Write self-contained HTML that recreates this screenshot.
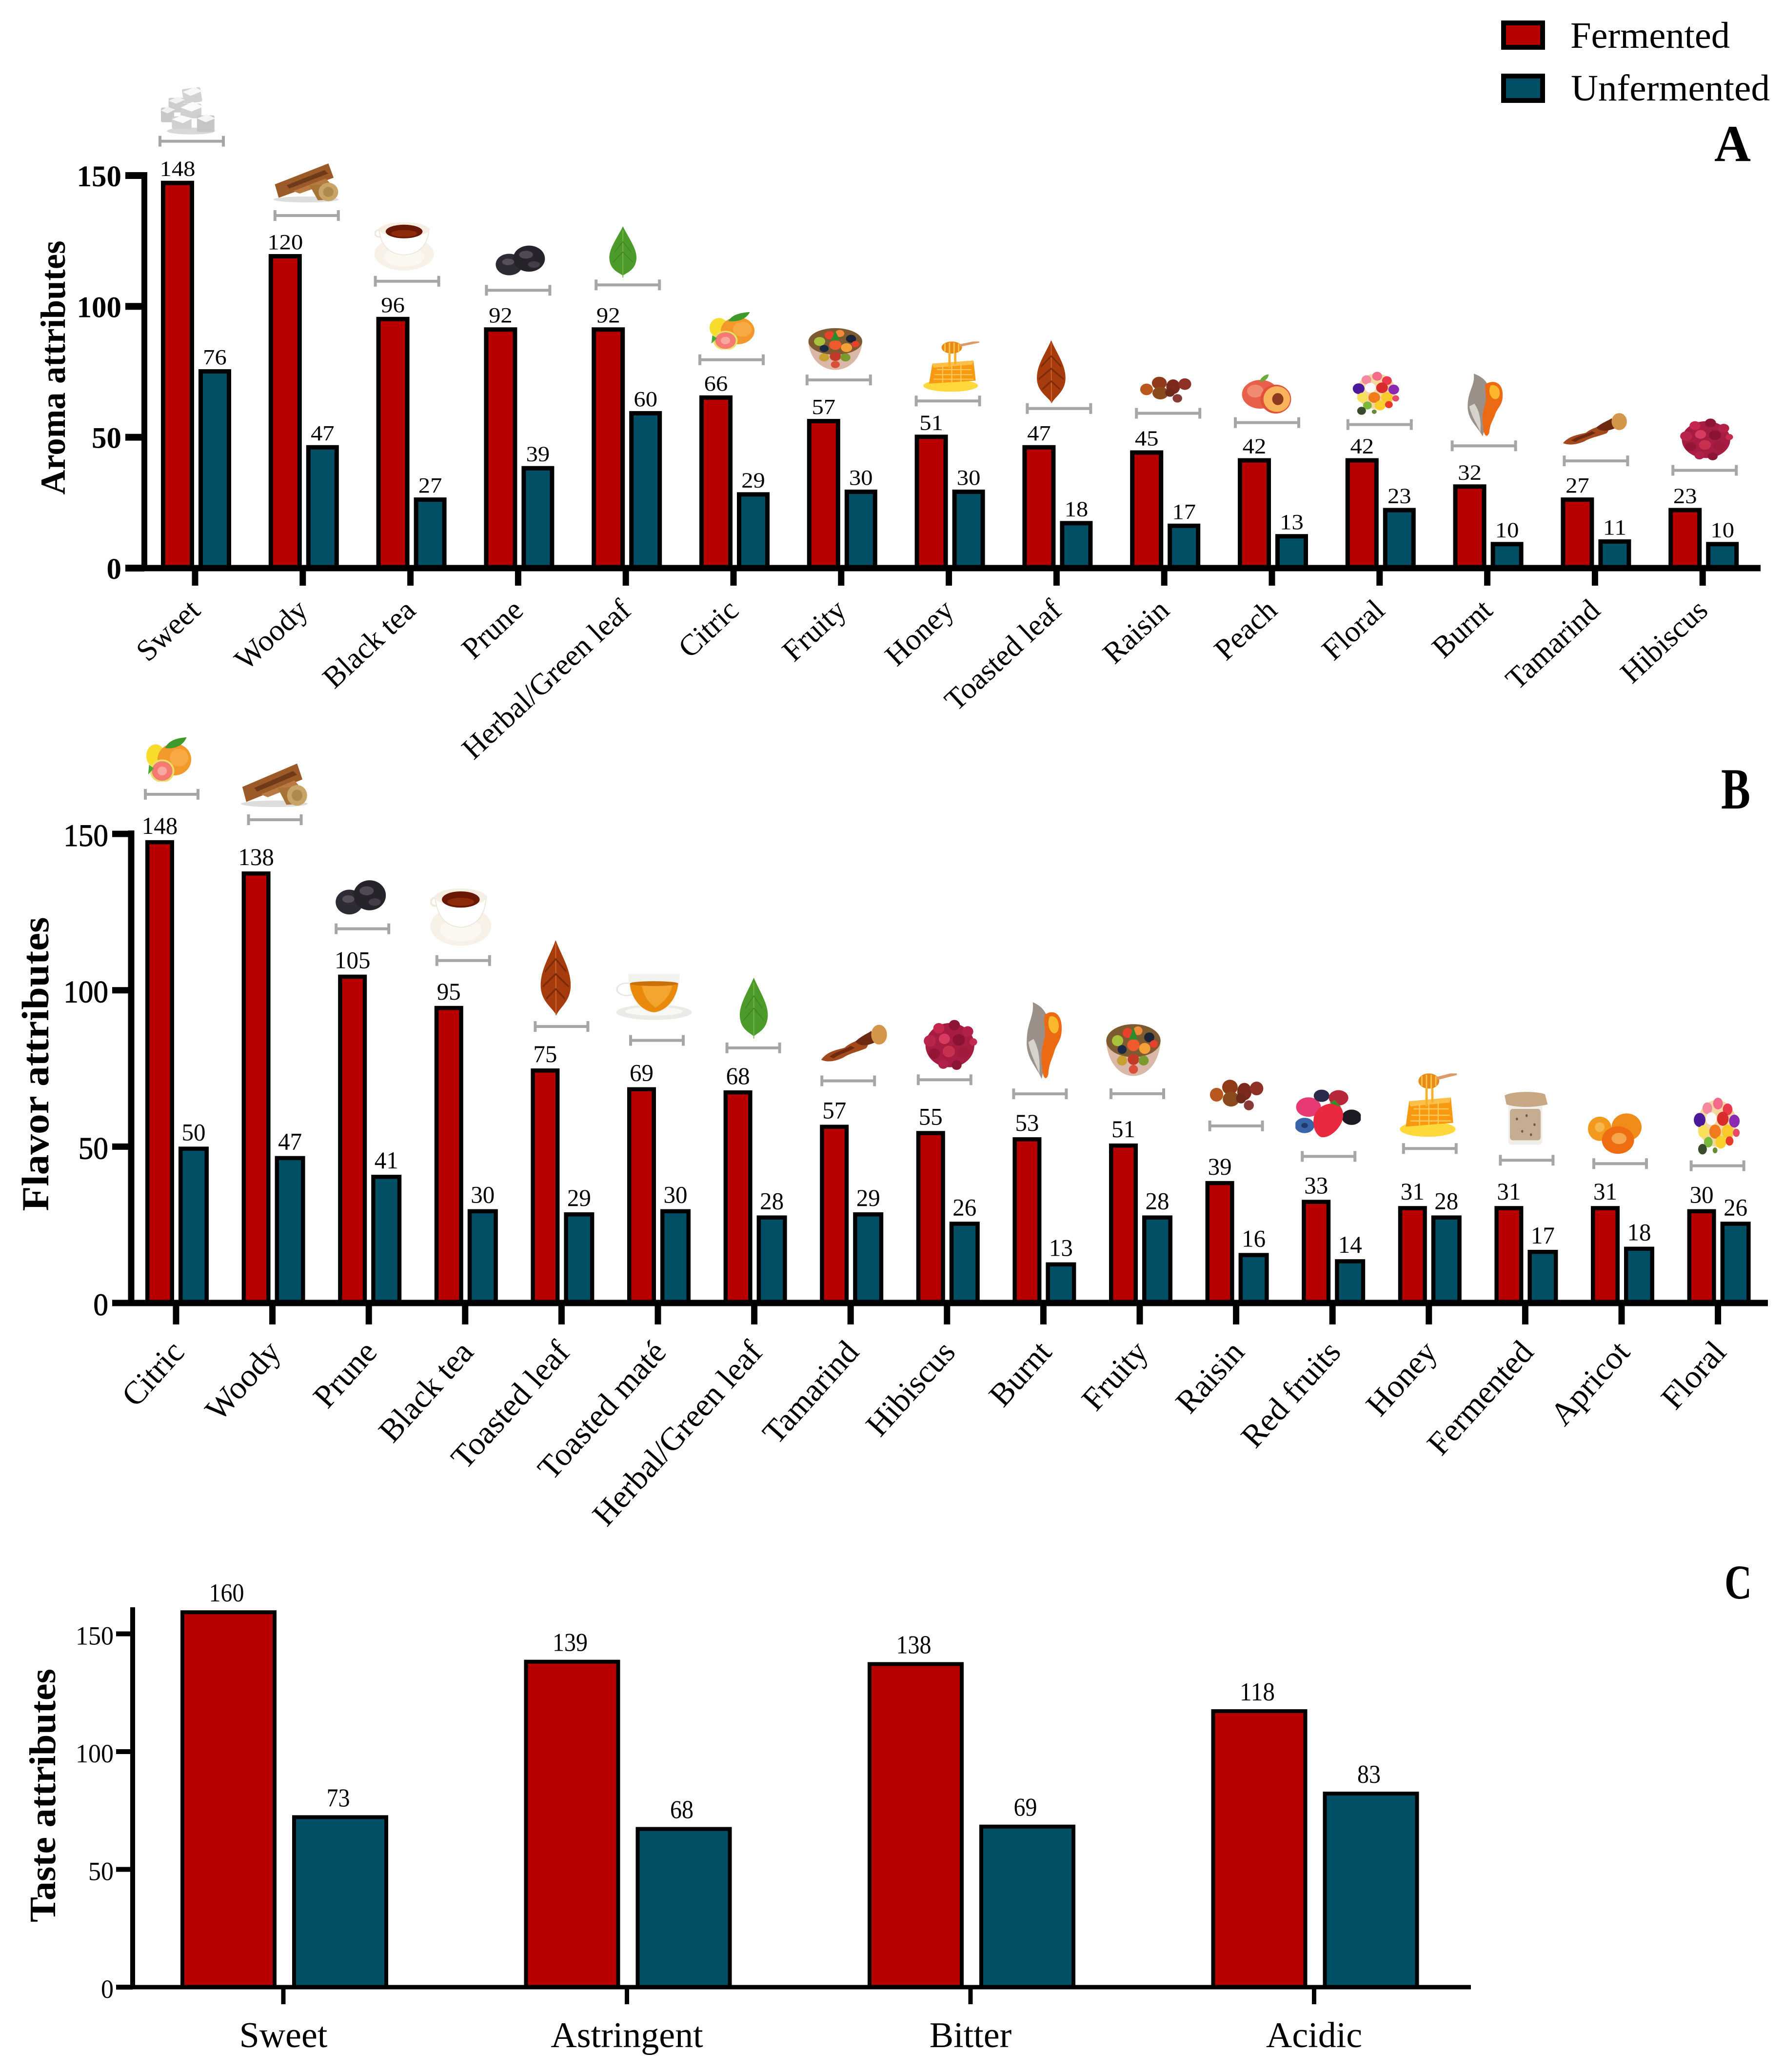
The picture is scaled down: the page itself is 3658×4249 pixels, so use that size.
<!DOCTYPE html>
<html lang="en">
<head>
<meta charset="utf-8">
<title>Aroma, flavor and taste attributes</title>
<style>
html,body{margin:0;padding:0;background:#fff;}
#figure{display:block;width:3658px;height:4249px;font-family:"Liberation Serif",serif;}
text{font-family:"Liberation Serif",serif;fill:#000;}
</style>
</head>
<body>
<svg id="figure" xmlns="http://www.w3.org/2000/svg" width="3658" height="4249" viewBox="0 0 3658 4249">
<defs>
<symbol id="i-sugar" viewBox="0 0 100 100" preserveAspectRatio="none">
<ellipse cx="55" cy="92" rx="44" ry="7" fill="#d8d8d8"/>
<rect x="40" y="4" width="34" height="30" rx="3" fill="#d2d2d2" transform="rotate(-8 57 19)"/>
<polygon points="40,12 62,2 76,10 54,20" fill="#f8f8f8"/>
<rect x="14" y="24" width="28" height="30" rx="3" fill="#cdcdcd"/>
<polygon points="14,30 30,22 44,28 28,36" fill="#f2f2f2"/>
<rect x="36" y="36" width="38" height="30" rx="3" fill="#d0d0d0"/>
<polygon points="36,44 58,32 78,42 56,52" fill="#fbfbfb"/>
<rect x="0" y="44" width="24" height="30" rx="3" fill="#c8c8c8"/>
<polygon points="0,50 12,42 26,48 12,56" fill="#f0f0f0"/>
<rect x="20" y="62" width="36" height="26" rx="3" fill="#d0d0d0"/>
<polygon points="20,68 38,60 58,66 40,76" fill="#fafafa"/>
<rect x="66" y="60" width="32" height="34" rx="3" fill="#c6c6c6"/>
<polygon points="66,66 84,58 100,66 82,74" fill="#f5f5f5"/>
</symbol>
<symbol id="i-wood" viewBox="0 0 100 100" preserveAspectRatio="none">
<ellipse cx="50" cy="92" rx="50" ry="7" fill="#ddd"/>
<polygon points="2,56 84,6 92,40 8,88" fill="#9c5a28"/>
<polygon points="20,58 78,22 84,30 24,66" fill="#6f3a18"/>
<polygon points="30,72 80,42 86,52 40,78" fill="#b87a40"/>
<polygon points="55,58 85,56 92,92 68,94" fill="#a87436"/>
<ellipse cx="84" cy="74" rx="15" ry="22" fill="#c8a468"/>
<ellipse cx="84" cy="74" rx="8" ry="12" fill="#b08a4c"/>
</symbol>
<symbol id="i-tea" viewBox="0 0 100 100" preserveAspectRatio="none">
<ellipse cx="50" cy="66" rx="50" ry="34" fill="#f7f1e8"/>
<ellipse cx="50" cy="72" rx="34" ry="20" fill="#fbf8f2"/>
<circle cx="8" cy="24" r="7" fill="none" stroke="#eee8dc" stroke-width="3"/>
<path d="M8,14 C10,48 24,66 50,68 C76,66 90,48 92,14 Z" fill="#fff" stroke="#ece6d8" stroke-width="1.5"/>
<ellipse cx="50" cy="16" rx="42" ry="15" fill="#f6eee2"/>
<ellipse cx="50" cy="20" rx="31" ry="14" fill="#6a1806"/>
<ellipse cx="50" cy="24" rx="22" ry="7" fill="#8e2a0c"/>
</symbol>
<symbol id="i-prune" viewBox="0 0 100 100" preserveAspectRatio="none">
<ellipse cx="28" cy="60" rx="27" ry="33" fill="#2f2b34"/>
<ellipse cx="68" cy="42" rx="32" ry="40" fill="#27232b"/>
<ellipse cx="26" cy="52" rx="12" ry="10" fill="#55505c"/>
<ellipse cx="62" cy="30" rx="14" ry="12" fill="#4e4955"/>
<ellipse cx="78" cy="60" rx="12" ry="10" fill="#423d49"/>
</symbol>
<symbol id="i-leaf" viewBox="0 0 100 100" preserveAspectRatio="none">
<path d="M50,0 C72,25 100,45 96,65 C92,85 65,90 50,96 C35,90 8,85 4,65 C0,45 28,25 50,0 Z" fill="#4c9a2a"/>
<path d="M50,8 L50,100" stroke="#79b544" stroke-width="3"/>
<path d="M50,30 L78,50 M50,30 L22,50 M50,50 L84,70 M50,50 L16,70" stroke="#3e8422" stroke-width="2"/>
</symbol>
<symbol id="i-toasted" viewBox="0 0 100 100" preserveAspectRatio="none">
<path d="M50,0 C70,22 100,40 98,62 C96,82 62,90 52,100 C40,90 4,82 2,62 C0,40 30,22 50,0 Z" fill="#a63c0e"/>
<path d="M50,4 L51,100" stroke="#d0662a" stroke-width="3"/>
<path d="M50,25 L84,42 M50,25 L16,42 M50,45 L92,62 M50,45 L8,62 M50,65 L80,78 M50,65 L20,78" stroke="#7c2a08" stroke-width="3"/>
</symbol>
<symbol id="i-citric" viewBox="0 0 100 100" preserveAspectRatio="none">
<ellipse cx="22" cy="42" rx="20" ry="26" fill="#f7dc2c"/>
<circle cx="62" cy="50" r="36" fill="#f3982a"/>
<circle cx="72" cy="46" r="20" fill="#f7aa44"/>
<circle cx="36" cy="76" r="26" fill="#e8e066"/>
<circle cx="36" cy="76" r="22" fill="#f47a72"/>
<circle cx="36" cy="76" r="10" fill="#f8a8a0"/>
<path d="M42,24 C52,4 72,2 88,0 C82,18 62,28 42,24 Z" fill="#3f9a2c"/>
<path d="M8,62 L18,70 L6,84 Z" fill="#4aa834"/>
</symbol>
<symbol id="i-fruity" viewBox="0 0 100 100" preserveAspectRatio="none">
<path d="M2,32 C4,72 26,96 50,96 C74,96 96,72 98,32 Z" fill="#d9b8a8"/>
<ellipse cx="50" cy="32" rx="48" ry="30" fill="#7d5a30"/>
<circle cx="22" cy="32" r="10" fill="#a8c23c"/>
<circle cx="40" cy="18" r="9" fill="#e8432a"/>
<circle cx="58" cy="14" r="8" fill="#f08a3c"/>
<circle cx="78" cy="26" r="9" fill="#1c2538"/>
<circle cx="30" cy="48" r="8" fill="#1a2a44"/>
<circle cx="50" cy="40" r="11" fill="#ee5a2e"/>
<circle cx="70" cy="46" r="10" fill="#f4a03a"/>
<circle cx="86" cy="38" r="7" fill="#e8402a"/>
<path d="M42,30 L50,8 L58,30 Z" fill="#2f8a2c"/>
<circle cx="30" cy="68" r="9" fill="#c8a030"/>
<circle cx="50" cy="66" r="10" fill="#c43a28"/>
<circle cx="68" cy="68" r="9" fill="#7a9a30"/>
<circle cx="50" cy="84" r="8" fill="#d8503a"/>
</symbol>
<symbol id="i-honey" viewBox="0 0 100 100" preserveAspectRatio="none">
<ellipse cx="48" cy="88" rx="48" ry="12" fill="#ffd83c"/>
<polygon points="16,44 88,38 92,78 10,84" fill="#f79a12"/>
<polygon points="16,44 88,38 86,46 18,52" fill="#fcc04a"/>
<g fill="none" stroke="#ffc95a" stroke-width="2"><path d="M24,56 H84 M20,66 H86 M18,75 H88"/><path d="M34,48 V82 M50,46 V82 M66,44 V80"/></g>
<path d="M46,16 V52 M56,20 V46" stroke="#f7b02a" stroke-width="4"/>
<ellipse cx="50" cy="12" rx="18" ry="12" fill="#e88a18"/>
<path d="M38,4 V20 M46,2 V24 M54,2 V24 M62,4 V20" stroke="#f9c448" stroke-width="2.5"/>
<path d="M64,8 L98,0" stroke="#dc9a68" stroke-width="5"/>
</symbol>
<symbol id="i-raisin" viewBox="0 0 100 100" preserveAspectRatio="none">
<ellipse cx="14" cy="50" rx="12" ry="22" fill="#b8581e"/>
<ellipse cx="38" cy="26" rx="14" ry="24" fill="#8f3a18"/>
<ellipse cx="40" cy="64" rx="15" ry="24" fill="#8a4a1c"/>
<ellipse cx="64" cy="40" rx="13" ry="28" fill="#7c2a1c"/>
<ellipse cx="86" cy="30" rx="12" ry="22" fill="#8e3226"/>
<ellipse cx="72" cy="84" rx="9" ry="16" fill="#8a3a36"/>
<ellipse cx="58" cy="62" rx="9" ry="16" fill="#6e2a18"/>
</symbol>
<symbol id="i-peach" viewBox="0 0 100 100" preserveAspectRatio="none">
<circle cx="38" cy="50" r="36" fill="#e8604a"/>
<circle cx="28" cy="42" r="16" fill="#f08a70"/>
<ellipse cx="68" cy="62" rx="30" ry="36" fill="#e2503a"/>
<ellipse cx="70" cy="62" rx="26" ry="32" fill="#f8b45a"/>
<ellipse cx="72" cy="62" rx="11" ry="15" fill="#8e3a1e"/>
<path d="M36,18 C40,6 48,0 54,0 C54,10 46,20 36,18 Z" fill="#6fa83c"/>
</symbol>
<symbol id="i-floral" viewBox="0 0 100 100" preserveAspectRatio="none">
<circle cx="50" cy="46" r="40" fill="#f3d6a0"/>
<circle cx="30" cy="20" r="10" fill="#f48aa0"/><circle cx="52" cy="12" r="10" fill="#f46a8a"/><circle cx="72" cy="22" r="10" fill="#e83a4a"/>
<circle cx="14" cy="40" r="12" fill="#4a1a9a"/><circle cx="38" cy="38" r="11" fill="#fafafa"/><circle cx="62" cy="38" r="12" fill="#d82c2c"/><circle cx="86" cy="42" r="11" fill="#8a2ab0"/>
<circle cx="22" cy="60" r="11" fill="#f8e05a"/><circle cx="46" cy="60" r="12" fill="#f07a1c"/><circle cx="72" cy="60" r="12" fill="#f8c82c"/><circle cx="90" cy="62" r="7" fill="#e84a6a"/>
<circle cx="32" cy="78" r="9" fill="#7ab83c"/><circle cx="58" cy="78" r="11" fill="#fad02c"/><circle cx="76" cy="76" r="8" fill="#e83a2a"/>
<circle cx="20" cy="90" r="9" fill="#3a4a2c"/><circle cx="46" cy="92" r="5" fill="#6a8a3a"/>
</symbol>
<symbol id="i-burnt" viewBox="0 0 100 100" preserveAspectRatio="none">
<path d="M20,0 C50,6 64,16 62,34 C58,60 52,80 44,96 C30,80 0,70 4,46 C6,24 24,18 20,0 Z" fill="#9a9088"/>
<path d="M8,50 C14,66 30,78 38,90 C40,70 36,58 22,46 Z" fill="#d6d2cc"/>
<path d="M52,16 C74,8 100,14 98,34 C98,48 84,52 78,62 C72,72 64,76 62,90 C56,100 46,94 46,82 C40,68 46,54 52,44 C56,34 48,26 52,16 Z" fill="#ec6a14"/>
<path d="M66,18 C80,16 92,22 90,32 C86,42 72,40 66,34 C60,28 62,22 66,18 Z" fill="#fcb82c"/>
</symbol>
<symbol id="i-tamarind" viewBox="0 0 100 100" preserveAspectRatio="none">
<path d="M0,92 C10,68 26,66 36,60 C46,44 58,42 66,32 C72,34 74,52 68,62 C54,72 42,76 34,86 C22,96 10,100 0,92 Z" fill="#a2491e"/>
<path d="M16,86 C26,72 38,70 48,58" stroke="#6e2a10" stroke-width="8" fill="none"/>
<path d="M52,44 C62,28 72,22 76,16 L82,46 C72,54 60,60 52,44 Z" fill="#6e2a10"/>
<ellipse cx="88" cy="26" rx="12" ry="26" fill="#d4964a"/>
</symbol>
<symbol id="i-hibiscus" viewBox="0 0 100 100" preserveAspectRatio="none">
<ellipse cx="50" cy="50" rx="44" ry="42" fill="#a61c42"/>
<circle cx="30" cy="18" r="10" fill="#c4264e"/><circle cx="58" cy="12" r="10" fill="#8e1434"/><circle cx="82" cy="24" r="10" fill="#b42048"/>
<circle cx="14" cy="42" r="11" fill="#b8244a"/><circle cx="40" cy="38" r="10" fill="#d83a60"/><circle cx="66" cy="40" r="11" fill="#8a1232"/><circle cx="92" cy="44" r="7" fill="#c22a50"/>
<circle cx="22" cy="66" r="10" fill="#941634"/><circle cx="48" cy="62" r="11" fill="#c8304e"/><circle cx="74" cy="64" r="11" fill="#a01a3c"/>
<circle cx="38" cy="86" r="9" fill="#b0204a"/><circle cx="62" cy="88" r="9" fill="#8c1434"/>
</symbol>
<symbol id="i-mate" viewBox="0 0 100 100" preserveAspectRatio="none">
<ellipse cx="50" cy="84" rx="50" ry="16" fill="#eceae6"/>
<ellipse cx="50" cy="82" rx="38" ry="9" fill="#f9f8f5"/>
<circle cx="14" cy="36" r="13" fill="none" stroke="#e6e6e2" stroke-width="2.5"/>
<path d="M16,4 C16,50 30,84 50,86 C70,84 84,50 84,4 Z" fill="#f2f2ee"/>
<path d="M18,24 C20,56 34,82 50,84 C66,82 80,56 82,24 Z" fill="#ea8a0c"/>
<path d="M34,28 C36,50 44,66 52,74 C64,62 72,46 74,28 Z" fill="#f3a52e"/>
<ellipse cx="50" cy="24" rx="32" ry="5" fill="#c8700a"/>
</symbol>
<symbol id="i-berries" viewBox="0 0 100 100" preserveAspectRatio="none">
<circle cx="20" cy="36" r="19" fill="#e83a72"/>
<circle cx="40" cy="14" r="12" fill="#2a2a4a"/>
<circle cx="66" cy="18" r="15" fill="#b8283a"/>
<circle cx="14" cy="72" r="15" fill="#3a64a8"/>
<circle cx="14" cy="72" r="5" fill="#1e3a6a"/>
<circle cx="86" cy="56" r="15" fill="#1e1a24"/>
<path d="M28,58 C30,36 50,26 62,30 C76,36 76,60 66,76 C58,90 46,98 38,94 C30,88 26,72 28,58 Z" fill="#e8293e"/>
<path d="M52,28 L70,36 L60,22 Z" fill="#3a8a2c"/>
</symbol>
<symbol id="i-jar" viewBox="0 0 100 100" preserveAspectRatio="none">
<rect x="10" y="20" width="78" height="76" rx="8" fill="#efeeea"/>
<rect x="14" y="32" width="70" height="56" rx="6" fill="#c4ad90"/>
<circle cx="30" cy="50" r="2.5" fill="#6e5a44"/><circle cx="52" cy="44" r="2.5" fill="#6e5a44"/><circle cx="70" cy="60" r="2.5" fill="#6e5a44"/><circle cx="42" cy="72" r="2.5" fill="#6e5a44"/><circle cx="62" cy="78" r="2.5" fill="#6e5a44"/>
<path d="M2,8 C20,0 76,0 94,6 L100,24 C70,30 30,30 6,24 Z" fill="#c8a884"/>
</symbol>
<symbol id="i-apricot" viewBox="0 0 100 100" preserveAspectRatio="none">
<ellipse cx="22" cy="38" rx="22" ry="30" fill="#f39a1e"/>
<ellipse cx="72" cy="34" rx="28" ry="34" fill="#f08c18"/>
<ellipse cx="56" cy="66" rx="30" ry="34" fill="#ee6c12"/>
<ellipse cx="58" cy="62" rx="14" ry="14" fill="#f8a44a"/>
<ellipse cx="22" cy="34" rx="9" ry="12" fill="#f7b74e"/>
</symbol>
</defs>

<g>
<g>
<rect x="3083" y="47" width="80" height="50" fill="#b90000" stroke="#000" stroke-width="10"/>
<text x="3220" y="98" font-size="76" textLength="327" lengthAdjust="spacingAndGlyphs">Fermented</text>
</g>
<g>
<rect x="3083" y="156" width="80" height="50" fill="#004f64" stroke="#000" stroke-width="10"/>
<text x="3221" y="206" font-size="76" textLength="408" lengthAdjust="spacingAndGlyphs">Unfermented</text>
</g>
</g>
<text x="3515" y="330" font-size="106" font-weight="bold" textLength="75" lengthAdjust="spacingAndGlyphs">A</text>
<text x="3529" y="1658" font-size="120" font-weight="bold" textLength="60" lengthAdjust="spacingAndGlyphs">B</text>
<text x="3536" y="3278" font-size="100" font-weight="bold" textLength="56" lengthAdjust="spacingAndGlyphs">C</text>
<g id="charts"></g>
</svg>

<script>
// ---- Panel A: aroma ----
const aromaCategories = ["Sweet","Woody","Black tea","Prune","Herbal/Green leaf","Citric","Fruity","Honey","Toasted leaf","Raisin","Peach","Floral","Burnt","Tamarind","Hibiscus"];
const aromaFermented = [148,120,96,92,92,66,57,51,47,45,42,42,32,27,23];
const aromaUnfermented = [76,47,27,39,60,29,30,30,18,17,13,23,10,11,10];
const aromaTicks = [0,50,100,150];

// ---- Panel B: flavor ----
const flavorCategories = ["Citric","Woody","Prune","Black tea","Toasted leaf","Toasted maté","Herbal/Green leaf","Tamarind","Hibiscus","Burnt","Fruity","Raisin","Red fruits","Honey","Fermented","Apricot","Floral"];
const flavorFermented = [148,138,105,95,75,69,68,57,55,53,51,39,33,31,31,31,30];
const flavorUnfermented = [50,47,41,30,29,30,28,29,26,13,28,16,14,28,17,18,26];
const flavorTicks = [0,50,100,150];

// ---- Panel C: taste ----
const tasteCategories = ["Sweet","Astringent","Bitter","Acidic"];
const tasteFermented = [160,139,138,118];
const tasteUnfermented = [73,68,69,83];
const tasteTicks = [0,50,100,150];

// Decoration layout: icon symbol, icon w, icon h, icon dx, icon gap, bracket dx, bracket rise
const aromaDecor = {
  "Sweet":["sugar",112,100,-14,13,-7,81],"Woody":["wood",134,86,7,26,8,79],"Black tea":["tea",122,100,-13,22,-7,73],
  "Prune":["prune",102,67,4,26,0,76],"Herbal/Green leaf":["leaf",60,105,-6,15,4,87],"Citric":["citric",96,77,-3,21,-4,73],
  "Fruity":["fruity",115,91,-12,17,-5,80],"Honey":["honey",117,103,6,19,-2,69],"Toasted leaf":["toasted",61,129,-11,11,5,75],
  "Raisin":["raisin",109,54,3,22,8,76],"Peach":["peach",105,82,-11,17,-10,73],"Floral":["floral",100,91,-7,19,0,69],
  "Burnt":["burnt",76,134,-5,14,-7,79],"Tamarind":["tamarind",131,67,0,31,2,75],"Hibiscus":["hibiscus",113,90,7,18,4,77]
};
const flavorDecor = {
  "Citric":["citric",96,91,-15,26,-9,94],"Woody":["wood",137,96,4,25,5,106],"Prune":["prune",104,77,-17,24,-13,94],
  "Black tea":["tea",125,119,-9,30,-4,93],"Toasted leaf":["toasted",64,154,-12,23,0,86],"Toasted maté":["mate",155,98,-8,42,-2,96],
  "Herbal/Green leaf":["leaf",62,125,-1,19,-2,87],"Tamarind":["tamarind",135,78,7,37,-5,90],"Hibiscus":["hibiscus",114,108,6,17,-5,105],
  "Burnt":["burnt",76,164,1,24,-7,89],"Fruity":["fruity",116,113,-13,32,-5,102],"Raisin":["raisin",114,64,1,32,0,113],
  "Red fruits":["berries",134,105,-9,34,-8,89],"Honey":["honey",119,130,0,24,2,118],"Fermented":["jar",90,115,1,27,3,94],
  "Apricot":["apricot",110,83,-14,20,-3,87],"Floral":["floral",99,120,-2,22,-1,89]
};

const SVGNS = "http://www.w3.org/2000/svg";
const root = document.getElementById("charts");
function mk(tag, attrs, parent, txt){
  const el = document.createElementNS(SVGNS, tag);
  for (const k in attrs) el.setAttribute(k, attrs[k]);
  if (txt !== undefined) el.textContent = txt;
  parent.appendChild(el);
  return el;
}
function slug(s){ return s.toLowerCase().replace(/[^a-z0-9]+/g,"-"); }

function drawChart(c){
  const g = mk("g", {}, root);
  
  
  const xPos = i => c.x0 + i * c.dx;
  const yPos = v => c.y0 - v * c.scale;

  // bars
  function bar(i, v, off, w, fill, series){
    const top = yPos(v);
    const b = c.border;
    const r = mk("rect", {x:xPos(i)+off+b/2, y:top+b/2, width:w-b, height:c.y0-top-b/2, fill:fill, stroke:"#000", "stroke-width":b}, g);
    
    
    const txt = String(v);
    const t = mk("text", {x:xPos(i)+off+w/2+c.valueDx, y:top-c.valueGap, "font-size":c.valueFs, "text-anchor":"middle", textLength:txt.length*c.charW, lengthAdjust:"spacingAndGlyphs"}, g, txt);
    
    
  }
  c.categories.forEach((name,i)=>{
    bar(i, c.fermented[i], c.redOff, c.redW, "#b90000", "fermented");
    bar(i, c.unfermented[i], c.blueOff, c.blueW, "#004f64", "unfermented");
  });

  // y axis
  const ya = mk("rect", {x:c.axisX-c.axisW/2, y:c.axisTop, width:c.axisW, height:c.y0-c.axisTop+c.thick/2, fill:"#000"}, g);
  
  
  c.ticks.forEach(v=>{
    const tk = mk("rect", {x:c.tickLeft, y:yPos(v)-c.ytickH/2, width:c.axisX-c.tickLeft, height:c.ytickH, fill:"#000"}, g);
    
    
    const lb = mk("text", {x:c.tickLabelX, y:yPos(v)+c.tickLabelDy, "font-size":c.tickFs, "text-anchor":"end", "font-weight":c.tickWeight}, g, String(v));
    if (c.tickStroke){ lb.setAttribute("stroke","#000"); lb.setAttribute("stroke-width",c.tickStroke); }
    if (c.tickCharW){ lb.setAttribute("textLength", String(v).length*c.tickCharW); lb.setAttribute("lengthAdjust","spacingAndGlyphs"); }
    
    
  });

  // x axis
  const xa = mk("rect", {x:c.tickLeft, y:c.y0-c.thick/2, width:c.right-c.tickLeft, height:c.thick, fill:"#000"}, g);
  
  
  c.categories.forEach((name,i)=>{
    const tk = mk("rect", {x:xPos(i)-c.xtickW/2, y:c.y0, width:c.xtickW, height:c.tickBottom-c.y0, fill:"#000"}, g);
    
    
    const ax = xPos(i) + c.catDx, ay = c.catY;
    const attrs = {x:ax, y:ay, "font-size":c.catFs, "text-anchor":c.catAngle ? "end" : "middle"};
    if (c.catAngle) attrs.transform = "rotate(" + c.catAngle + " " + ax + " " + ay + ")";
    const lb = mk("text", attrs, g, name);
    
    
  });

  // y axis title
  const tt = mk("text", {x:c.titleX, y:c.titleY, "font-size":c.titleFs, "font-weight":"bold", "text-anchor":"middle", textLength:c.titleLen, lengthAdjust:"spacingAndGlyphs", transform:"rotate(-90 "+c.titleX+" "+c.titleY+")"}, g, c.title);
  
  

  // decorations: bracket + icon
  if (c.decor){
    c.categories.forEach((name,i)=>{
      const d = c.decor[name];
      if (!d) return;
      const by = yPos(c.fermented[i]) - d[6];
      const bc = xPos(i) + d[5];
      const hw = c.bracketW/2;
      const br = mk("path", {d:"M"+(bc-hw)+" "+(by-11)+"V"+(by+11)+"M"+(bc-hw)+" "+by+"H"+(bc+hw)+"M"+(bc+hw)+" "+(by-11)+"V"+(by+11), fill:"none", stroke:"#a6a6a6", "stroke-width":6}, g);
      
      
      const ic = mk("use", {href:"#i-"+d[0], x:xPos(i)+d[3]-d[1]/2, y:by-d[4]-d[2], width:d[1], height:d[2]}, g);
      
      
    });
  }
}

drawChart({id:"aroma", categories:aromaCategories, fermented:aromaFermented, unfermented:aromaUnfermented, ticks:aromaTicks, decor:aromaDecor,
  x0:400, dx:220.8, y0:1165, scale:5.367, redOff:-70, redW:68, blueOff:7, blueW:67, border:9,
  axisX:296, axisW:12, axisTop:353, thick:13, ytickH:14, xtickW:13, tickLeft:257, tickBottom:1201, right:3610,
  tickLabelX:249, tickLabelDy:22, tickFs:61, tickWeight:"bold", valueFs:44, charW:24.3, valueGap:10, valueDx:0,
  catFs:62, catAngle:-43, catDx:14, catY:1256, title:"Aroma attributes", titleX:133, titleY:754, titleFs:72, titleLen:521, bracketW:130});

drawChart({id:"flavor", categories:flavorCategories, fermented:flavorFermented, unfermented:flavorUnfermented, ticks:flavorTicks, decor:flavorDecor,
  x0:361, dx:197.6, y0:2672, scale:6.413, redOff:-63, redW:59, blueOff:5, blueW:62, border:8.5,
  axisX:269, axisW:13, axisTop:1703, thick:13, ytickH:13, xtickW:13, tickLeft:230, tickBottom:2716, right:3625,
  tickLabelX:222, tickLabelDy:25, tickFs:65, tickWeight:"normal", tickStroke:1, tickCharW:30.6, valueFs:50, charW:24.5, valueGap:13, valueDx:0,
  catFs:67, catAngle:-48, catDx:20, catY:2775, title:"Flavor attributes", titleX:99, titleY:2182, titleFs:78, titleLen:603, bracketW:108});

drawChart({id:"taste", categories:tasteCategories, fermented:tasteFermented, unfermented:tasteUnfermented, ticks:tasteTicks, decor:null,
  x0:581, dx:704.5, y0:4075, scale:4.83, redOff:-211, redW:197, blueOff:18, blueW:197, border:8,
  axisX:272, axisW:10, axisTop:3296, thick:9, ytickH:10, xtickW:9, tickLeft:238, tickBottom:4110, right:3016,
  tickLabelX:233, tickLabelDy:22, tickFs:54, tickWeight:"normal", tickCharW:26, valueFs:53, charW:24, valueGap:18, valueDx:-4,
  catFs:74, catAngle:0, catDx:0, catY:4198, title:"Taste attributes", titleX:113, titleY:3682, titleFs:76, titleLen:520, bracketW:0});
</script>
</body>
</html>
